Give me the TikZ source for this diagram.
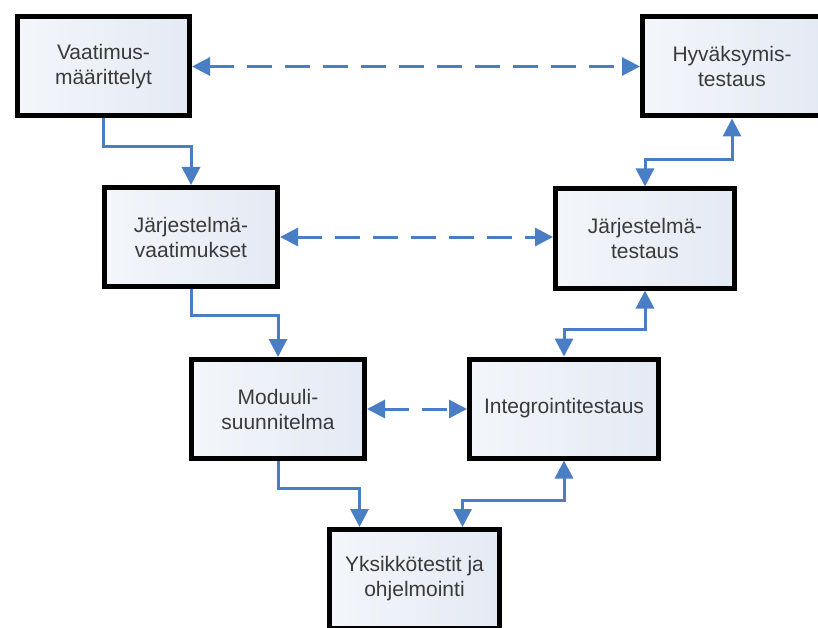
\documentclass[tikz,border=0pt]{standalone}
\usepackage{fontspec}
\setmainfont{Liberation Sans}
\usepackage{xcolor}
\usepackage{tikz}
\usetikzlibrary{arrows.meta, shadows}
\definecolor{vblue}{HTML}{4A7EC4}
\definecolor{vfilla}{HTML}{F3F6FA}
\definecolor{vfillb}{HTML}{E4EAF4}
\definecolor{vtext}{HTML}{3A3A3A}

\begin{document}
\begin{tikzpicture}[
    x=1pt, y=-1pt,
    phase/.style={rectangle, draw=black, line width=5pt, left color=vfilla,
                  right color=vfillb, minimum width=#1, minimum height=99pt,
                  align=center, text=vtext, inner sep=0pt,
                  font=\fontsize{21}{25}\selectfont,
                  drop shadow={shadow xshift=1.5pt, shadow yshift=-1.5pt,
                               opacity=0.25}},
    link/.style={-{Triangle[length=18pt, width=18pt]}, line width=3pt,
                 color=vblue},
    twoway/.style={{Triangle[length=18pt, width=18pt]}-{Triangle[length=18pt, width=18pt]},
                   line width=3pt, color=vblue},
    pair/.style={twoway, dash pattern=on 25pt off 13pt}
]
\useasboundingbox (0,0) rectangle (818,628);
\clip (0,0) rectangle (818,628);

\node[phase=172pt] (req)     at (103.5,66.5) {Vaatimus-\\määrittelyt};
\node[phase=179pt] (acc)     at (732,66.5)   {Hyväksymis-\\testaus};
\node[phase=173pt] (sysreq)  at (191,237)    {Järjestelmä-\\vaatimukset};
\node[phase=179pt] (systest) at (645,238.5)  {Järjestelmä-\\testaus};
\node[phase=173pt] (mod)     at (278,409)    {Moduuli-\\suunnitelma};
\node[phase=189pt] (integ)   at (564,408.5)  {Integrointitestaus};
\node[phase=170pt] (unit)    at (414.5,579)  {Yksikkötestit ja\\ohjelmointi};

\draw[link] (req.south) -- ++(0,28) -| (sysreq.north);
\draw[link] (sysreq.south) -- ++(0,26) -| (mod.north);
\draw[link] (mod.south) -- ++(0,27) -| ([xshift=-55pt]unit.north);

\draw[twoway] ([xshift=48pt]unit.north) -- ++(0,-27) -| (integ.south);
\draw[twoway] (integ.north) -- ++(0,-27) -| (systest.south);
\draw[twoway] (systest.north) -- ++(0,-27) -| (acc.south);

\draw[pair] (req.east) -- (req.east -| acc.west);
\draw[pair] (sysreq.east) -- (sysreq.east -| systest.west);
\draw[pair] (mod.east) -- (mod.east -| integ.west);
\end{tikzpicture}
\end{document}
